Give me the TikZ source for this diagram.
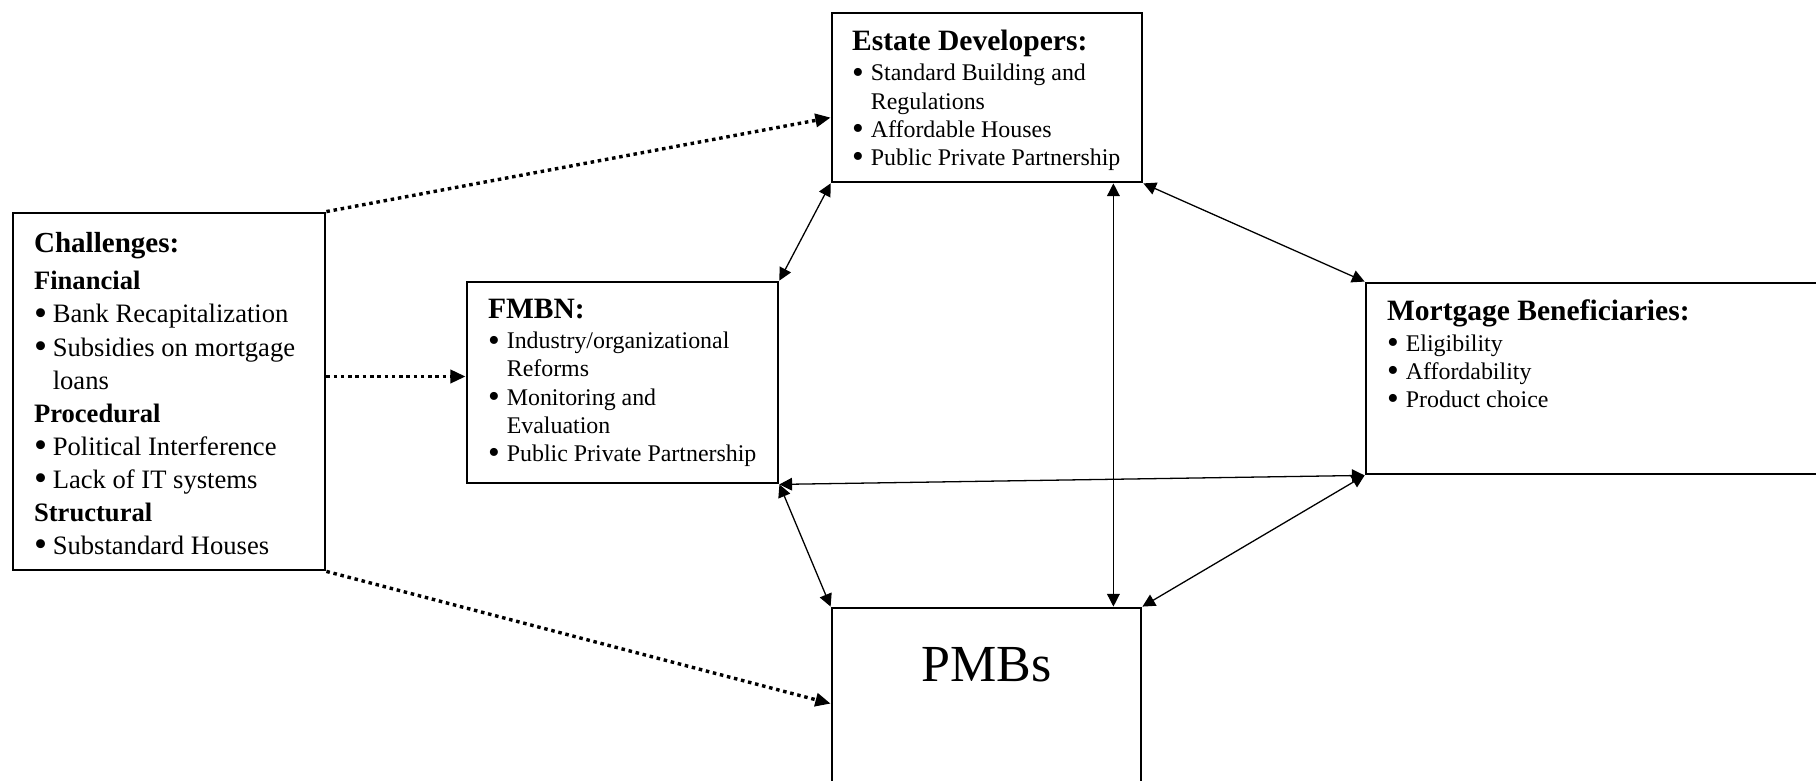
\documentclass[tikz,border=0pt]{standalone}
\usepackage{fontspec}
\setmainfont{Liberation Serif}
\usetikzlibrary{arrows.meta,calc,fit}

% bullet with hanging indent
\newcommand{\bul}{\makebox[8pt][l]{\raisebox{-0.09em}{\scalebox{1.4}{\textbullet}}}}
\newcommand{\cont}{\hspace*{8pt}}

\tikzset{
  box/.style={draw, line width=1.2pt, inner sep=0pt},
  txt/.style={anchor=north west, align=left, inner sep=0pt},
  link/.style={line width=0.55pt,
    {Triangle[length=5.4pt,width=5.4pt]}-{Triangle[length=5.4pt,width=5.4pt]}},
  dots/.style={line width=1.45pt, dash pattern=on 1.5pt off 1.6pt,
    -{Triangle[length=6.5pt,width=5.6pt]}},
}

\begin{document}
\begin{tikzpicture}[x=0.015cm, y=-0.015cm]
	\useasboundingbox (0,0) rectangle (1816,781);
	\clip (0,0) rectangle (1816,781);
	
	% Boxes
	\node[box, fit={(13,213) (325,570)}] (chal) {};
	\node[box, fit={(467,282) (778,483)}] (fmbn) {};
	\node[box, fit={(832,13) (1142,182)}] (est) {};
	\node[box, fit={(1366,283) (1840,474)}] (mb) {};
	\node[box, fit={(832,608) (1141,820)}] (pmb) {};
	
	% Challenges
	\node[txt, font=\fontsize{11.35}{14.1}\selectfont] (chal-t) at ($(chal.north west)+(22,20)$) {%
		{\fontsize{12.4}{14}\selectfont\bfseries Challenges:}\\[2pt]
		\textbf{Financial}\\
		\bul Bank Recapitalization\\
		\bul Subsidies on mortgage\\
		\cont loans\\
		\textbf{Procedural}\\
		\bul Political Interference\\
		\bul Lack of IT systems\\
		\textbf{Structural}\\
		\bul Substandard Houses};
	
	% FMBN
	\node[txt, font=\fontsize{10.2}{12}\selectfont] (fmbn-t) at ($(fmbn.north west)+(22,18)$) {%
		{\fontsize{12.6}{14}\selectfont\bfseries FMBN:}\\[1pt]
		\bul Industry/organizational\\
		\cont Reforms\\
		\bul Monitoring and\\
		\cont Evaluation\\
		\bul Public Private Partnership};
	
	% Estate Developers
	\node[txt, font=\fontsize{10.2}{12}\selectfont] (est-t) at ($(est.north west)+(21,18)$) {%
		{\fontsize{12.6}{14}\selectfont\bfseries Estate Developers:}\\[1pt]
		\bul Standard Building and\\
		\cont Regulations\\
		\bul Affordable Houses\\
		\bul Public Private Partnership};
	
	% Mortgage Beneficiaries
	\node[txt, font=\fontsize{10.2}{12}\selectfont] (mb-t) at ($(mb.north west)+(22,18)$) {%
		{\fontsize{12.6}{14}\selectfont\bfseries Mortgage Beneficiaries:}\\[1pt]
		\bul Eligibility\\
		\bul Affordability\\
		\bul Product choice};
	
	% PMBs
	\node[anchor=base, inner sep=0pt, font=\fontsize{22.2}{26}\selectfont] (pmb-t) at ($(pmb.north)+(0,75)$) {PMBs};
	
	% Dotted links from the challenges
	\coordinate (dA) at ($(est.north west)+(0,106)$);
	\coordinate (dB) at ($(fmbn.west)+(0,-6)$);
	\coordinate (dC) at ($(pmb.north west)+(0,97)$);
	\draw[dots] (chal.north east) -- (dA);
	\draw[dots] (dB -| chal.east) -- (dB);
	\draw[dots] (chal.south east) -- (dC);
	
	% Two-way links
	\coordinate (vA) at ($(est.south east)+(-30,0)$);
	\draw[link] (est.south west) -- (fmbn.north east);
	\draw[link] (vA) -- (vA |- pmb.north);
	\draw[link] (est.south east) -- (mb.north west);
	\draw[link] (fmbn.south east) -- (mb.south west);
	\draw[link] (fmbn.south east) -- (pmb.north west);
	\draw[link] (mb.south west) -- (pmb.north east);
\end{tikzpicture}
\end{document}
